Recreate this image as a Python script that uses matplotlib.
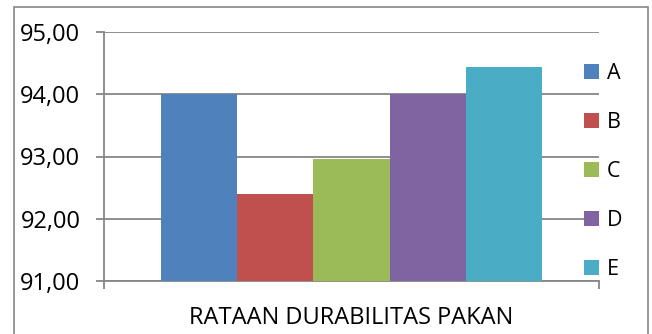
import matplotlib.pyplot as plt
from matplotlib.patches import Rectangle
from matplotlib.ticker import FixedLocator

plt.rcParams['font.family'] = ['Open Sans', 'DejaVu Sans']

# rataan durabilitas pakan per perlakuan
perlakuan = ['A', 'B', 'C', 'D', 'E']
durabilitas = [94.00, 92.39, 92.96, 94.00, 94.44]
warna = ['#4F81BD', '#C0504D', '#9BBB59', '#8064A2', '#4BACC6']
yticks = [91, 92, 93, 94, 95]
xlabel = 'RATAAN DURABILITAS PAKAN'

fig = plt.figure(figsize=(6.52, 3.34), dpi=100)
ax = fig.add_axes([104 / 652, 53 / 334, 495 / 652, 249 / 334])

# frame around the whole chart
fig.patches.append(Rectangle((14 / 652, -0.01), 634 / 652, 1.01 - 7 / 334,
                             transform=fig.transFigure, fill=False,
                             edgecolor='#868686', linewidth=1.2))

for i, (p, v, c) in enumerate(zip(perlakuan, durabilitas, warna)):
    ax.bar(i, v - 91, bottom=91, width=1.0, color=c, label=p, zorder=3)

ax.set_ylim(91, 95)
ax.set_xlim(-1.25, 5.25)
ax.set_yticks(yticks)
ax.set_yticklabels([('%.2f' % t).replace('.', ',') for t in yticks])
ax.yaxis.grid(True, color='#868686', linewidth=1.3, zorder=0)

ax.set_xticks([2])
ax.set_xticklabels([xlabel])
ax.xaxis.set_minor_locator(FixedLocator([-1.25, 5.25]))
ax.tick_params(axis='x', which='major', length=0, pad=18, labelsize=17)
ax.tick_params(axis='x', which='minor', length=6, width=1.3, color='#868686', direction='out')
ax.tick_params(axis='y', length=6, width=1.3, color='#868686', pad=11, labelsize=17)

for s in ['top', 'right']:
    ax.spines[s].set_visible(False)
for s in ['left', 'bottom']:
    ax.spines[s].set_color('#868686')
    ax.spines[s].set_linewidth(1.3)

ax.legend(loc='center left', bbox_to_anchor=(584 / 652, 0.4865),
          bbox_transform=fig.transFigure, frameon=False, borderaxespad=0,
          borderpad=0, fontsize=15.5, handlelength=0.7, handleheight=0.7,
          handletextpad=0.35, labelspacing=1.3)

fig.savefig('out.png', dpi=100)
